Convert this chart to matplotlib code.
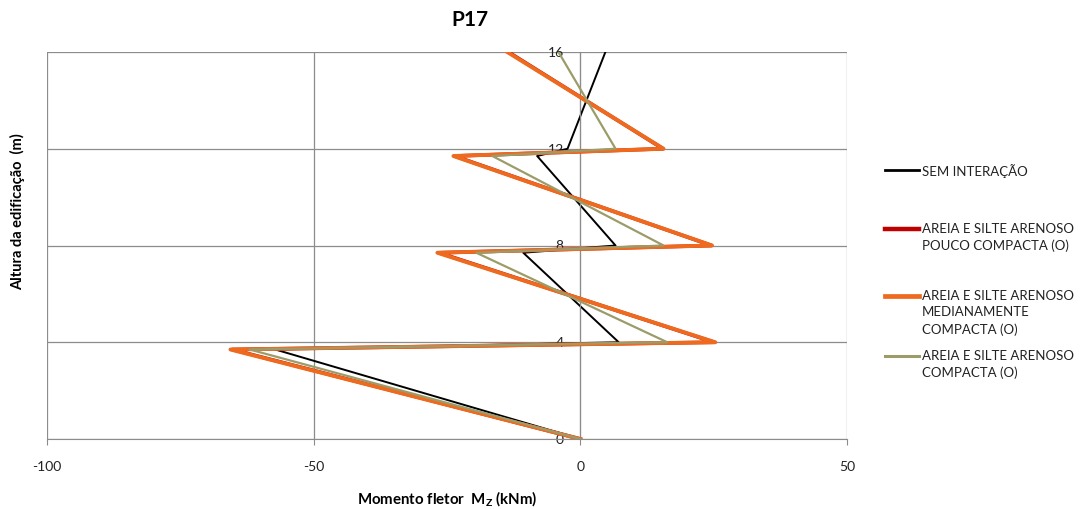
import numpy as np
import matplotlib.pyplot as plt
from matplotlib.lines import Line2D

plt.rcParams['font.family'] = ['Lato', 'DejaVu Sans']
plt.rcParams['axes.unicode_minus'] = False

# altura (m) of each point, same for all series
altura = [0, 3.7, 4, 7.7, 8, 11.7, 12, 16]

# momento fletor Mz (kNm)
sem_interacao = [0, -57.2, 7.2, -10.7, 6.6, -8.1, -2.4, 4.7]
pouco_compacta = [0, -65.3, 25.1, -26.5, 24.6, -23.6, 15.5, -13.5]
medianamente_compacta = [0, -65.6, 25.3, -26.8, 24.7, -23.8, 15.6, -13.7]
compacta = [0, -62.0, 16.3, -19.5, 15.6, -16.5, 6.6, -4.1]

labels = ["SEM INTERAÇÃO",
          "AREIA E SILTE ARENOSO\nPOUCO COMPACTA (O)",
          "AREIA E SILTE ARENOSO\nMEDIANAMENTE\nCOMPACTA (O)",
          "AREIA E SILTE ARENOSO\nCOMPACTA (O)"]
colors = ["#000000", "#C00000", "#EE6A1E", "#9C9C6A"]
widths = [1.4, 2.6, 2.8, 1.6]

fig = plt.figure(figsize=(10.85, 5.09), dpi=100)
ax = fig.add_axes([47/1085, 1 - 439/509, 800/1085, 387/509])

series = [sem_interacao, pouco_compacta, medianamente_compacta, compacta]
zorders = [2, 3, 4, 5]
for s, c, w, z in zip(series, colors, widths, zorders):
    ax.plot(s, altura, color=c, lw=w, zorder=z, solid_joinstyle='round')

ax.set_xlim(-100, 50)
ax.set_ylim(0, 16)
ax.set_xticks([-100, -50, 0, 50])
ax.set_yticks([0, 4, 8, 12, 16])
ax.grid(True, color='#8c8c8c', lw=0.9)
ax.set_axisbelow(True)

for sp in ['top', 'right']:
    ax.spines[sp].set_visible(False)
ax.spines['left'].set_position(('data', 0))
ax.spines['left'].set_color('#8c8c8c')
ax.spines['bottom'].set_color('#8c8c8c')
ax.tick_params(axis='y', length=0, pad=12, labelsize=10, labelcolor='#222222')
ax.tick_params(axis='x', length=4, pad=12, labelsize=10, color='#8c8c8c', labelcolor='#222222')

ax.set_xlabel(r"Momento fletor  M$_\mathregular{Z}$ (kNm)", fontsize=10.8,
              fontweight='bold', labelpad=12)
ax.set_ylabel("Altura da edificação  (m)", fontsize=10.5, fontweight='bold')
ax.yaxis.set_label_coords(-0.027, 0.587)
fig.text(470/1085, 1 - 20/509, "P17", fontsize=15, fontweight='bold',
         ha='center', va='center')

# legend, drawn by hand to keep Excel layout
leg_y = [170, 229, 296, 356]
for lab, c, w, y in zip(labels, colors, widths, leg_y):
    fy = 1 - y/509
    fig.add_artist(Line2D([885/1085, 919/1085], [fy, fy], color=c, lw=w + 0.6,
                          transform=fig.transFigure))
    fig.text(922/1085, fy + 6/509, lab, fontsize=9.5, va='top', ha='left',
             linespacing=1.45, color='#222222')

fig.savefig("out.png", dpi=100)
